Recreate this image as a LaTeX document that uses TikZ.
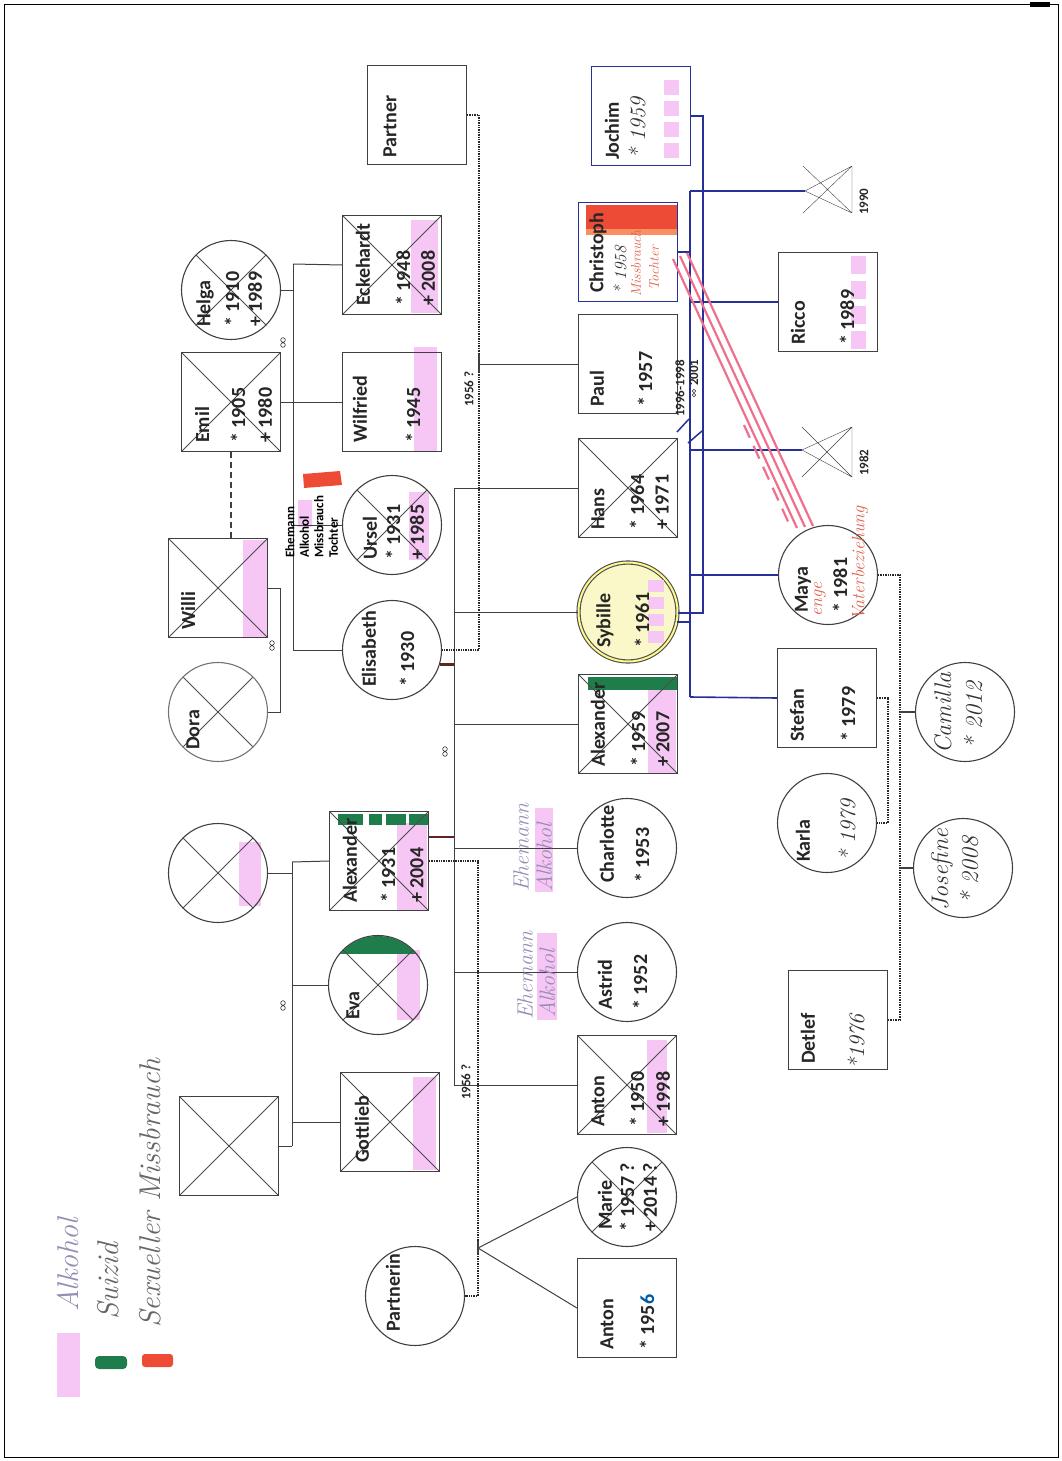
\documentclass[tikz,border=0pt]{standalone}
\usepackage{fontspec}
\usetikzlibrary{calc}
\newfontfamily\calfont{Carlito}
\newcommand{\nmfont}{\calfont\bfseries\fontsize{20}{22}\selectfont}
\newcommand{\smfont}{\calfont\bfseries\fontsize{13}{14}\selectfont}
\newcommand{\hdfont}{\itshape\fontsize{22}{24}\selectfont}
\definecolor{alk}{RGB}{246,198,244}
\definecolor{suiz}{RGB}{30,125,75}
\definecolor{miss}{RGB}{238,75,55}
\definecolor{fam}{RGB}{38,48,150}
\definecolor{abuse}{RGB}{238,112,140}
\definecolor{ink}{RGB}{150,140,180}
\definecolor{redink}{RGB}{222,95,75}
\definecolor{syb}{RGB}{250,248,200}
\definecolor{wed}{RGB}{95,35,35}

\begin{document}
\begin{tikzpicture}[x=1pt, y=-1pt,
  male/.style={draw=black!75, line width=1.1pt, rectangle, minimum size=99pt, inner sep=0pt},
  female/.style={draw=black!75, line width=1.1pt, circle, minimum size=99pt, inner sep=0pt},
  dead/.style={path picture={\draw[black!70, line width=0.8pt] (path picture bounding box.north west) -- (path picture bounding box.south east) (path picture bounding box.south west) -- (path picture bounding box.north east);}},
  nm/.style={rotate=90, anchor=west, inner sep=0pt, text=black!85, font=\nmfont},
  sm/.style={rotate=90, anchor=west, inner sep=0pt, text=black!85, font=\smfont},
  hd/.style={rotate=90, anchor=west, inner sep=0pt, text=black!80, font=\hdfont},
  rel/.style={draw=black!75, line width=1pt},
  affair/.style={draw=black!85, line width=1.4pt, densely dotted},
  famline/.style={draw=fam, line width=1.6pt},
  wedline/.style={draw=wed, line width=2.6pt},
  marr/.style={draw=black!80, line width=0.6pt}]
\useasboundingbox (0,0) rectangle (1062,1461);
\draw[line width=1pt] (4,5) rectangle (1058,1457);
\fill (1030,2) rectangle (1050,7);

% highlighter marks (alcohol / suicide / abuse)
\fill[alk] (411,220) rectangle (438,313);
\fill[alk] (414,347) rectangle (437,451);
\fill[alk] (409,492) rectangle (429,560);
\fill[alk] (243,540) rectangle (267,637);
\fill[alk] (239,842) rectangle (261,906);
\fill[alk] (397,823) rectangle (427,910);
\fill[alk] (397,950) rectangle (420,1020);
\fill[alk] (413,1077) rectangle (436,1170);
\fill[alk] (647,1040) rectangle (667,1133);
\fill[alk] (648,687) rectangle (676,773);
\fill[alk] (535,808) rectangle (553,892);
\fill[alk] (537,933) rectangle (557,1020);
\fill[alk] (298,500) rectangle (312,527);
\draw[alk, line width=15pt, dash pattern=on 15pt off 6pt] (671,80) -- (671,160);
\draw[alk, line width=15pt, dash pattern=on 18pt off 7pt] (858,256) -- (858,350);
\fill[suiz] (588,677) rectangle (677,690);
\draw[suiz, line width=11pt, dash pattern=on 25pt off 6pt on 13pt off 4pt on 20pt off 3pt on 19pt off 0pt] (338,819) -- (428,819);
\begin{scope}
  \clip (378,985) circle (49pt);
  \fill[suiz] (320,930) rectangle (440,954);
\end{scope}
\fill[miss] (303,474) -- (340,471) -- (342,485) -- (304,488) -- cycle;
\fill[miss] (586,205) rectangle (677,229);
\fill[miss!60!orange!70] (586,229) rectangle (677,235);

% persons, first generation
\node[female, dead] (helga) at (231,290) {};
\node[male, dead] (emil) at (231,402) {};
\node[female, dead, draw=black!55] (dora) at (218,712) {};
\node[male, dead] (willi) at (218,588) {};
\node[female, dead] (mother) at (218,873) {};
\node[male, dead] (father) at (229,1146) {};

% second generation
\node[male] (partner) at (417,115) {};
\node[male, dead] (eckehardt) at (392,265) {};
\node[male] (wilfried) at (392,402) {};
\node[female, dead] (ursel) at (392,525) {};
\node[female] (elisabeth) at (392,650) {};
\node[male, dead] (alexsr) at (379,861) {};
\node[female, dead] (eva) at (378,985) {};
\node[male, dead] (gottlieb) at (390,1122) {};
\node[female] (partnerin) at (415,1296) {};

% third generation
\node[male, draw=fam, line width=1.6pt] (jochim) at (641,116) {};
\node[male, draw=fam, line width=1.6pt] (christoph) at (628,252) {};
\node[male] (paul) at (628,364) {};
\node[male, dead] (hans) at (628,488) {};
\node[female, fill=syb, draw=black!70, double=yellow!45, double distance=2pt] (sybille) at (628,612) {};
\node[male, dead] (alexjr) at (628,724) {};
\node[female] (charlotte) at (627,848) {};
\node[female] (astrid) at (627,972) {};
\node[male, dead] (anton) at (627,1085) {};
\node[female, dead] (marie) at (627,1197) {};
\node[male] (antonb) at (627,1308) {};
\draw[alk, line width=16pt, dash pattern=on 12pt off 5pt] (656,580) -- (656,645);

% fourth and fifth generation
\node[male] (ricco) at (828,302) {};
\node[female] (maya) at (828,575) {};
\node[male] (stefan) at (827,698) {};
\node[female] (karla) at (827,823) {};
\node[male] (detlef) at (838,1020) {};
\node[female] (camilla) at (965,712) {};
\node[female] (josefine) at (963,868) {};
\coordinate (loss90) at (805,191);
\coordinate (loss82) at (802,450);
\draw[black!75] (loss90) -- (852,166) -- (852,213) -- cycle (803,166) -- (852,213) (803,213) -- (852,166);
\draw[black!75] (loss82) -- (852,427) -- (852,477) -- cycle (802,427) -- (852,477) (802,477) -- (852,427);
\node[sm] (y90) at (864,215) {1990};
\node[sm] (y82) at (864,476) {1982};

% Emil + Helga
\coordinate (ehtop) at (293,264);
\coordinate (ehbot) at (293,650);
\draw[rel] (ehtop) -- (ehbot);
\draw[rel] (helga.east) -- (helga.east -| ehtop);
\draw[rel] (emil.east) -- (wilfried.west);
\draw[rel] (ehtop) -- (eckehardt.west);
\draw[rel] (ursel.west -| ehtop) -- (ursel.west);
\draw[rel] (ehbot) -- (elisabeth.west);
\draw[marr] (283,340) circle (2.3pt) (283,345) circle (2.3pt);
\draw[rel, line width=1.6pt, dash pattern=on 6pt off 4pt] (emil.south) -- (emil.south |- willi.north);

% Willi + Dora
\draw[rel] (willi.east) -- ++(12,0) |- (dora.east);
\draw[marr] (272,643) circle (2.3pt) (272,648) circle (2.3pt);

% parents of Alexander
\coordinate (gtop) at (292,862);
\coordinate (gbot) at (292,1146);
\draw[rel] (gtop) -- (gbot);
\draw[rel] (mother.east) -- (mother.east -| gtop);
\draw[rel] (gtop) -- (alexsr.west);
\draw[rel] (eva.west -| gtop) -- (eva.west);
\draw[rel] (gottlieb.west -| gtop) -- (gottlieb.west);
\draw[rel] (father.east) -- (gbot);
\draw[marr] (283,1003) circle (2.3pt) (283,1008) circle (2.3pt);

% Elisabeth + Alexander
\coordinate (stop) at (454,488);
\coordinate (sbot) at (454,1085);
\draw[rel] (stop) -- (sbot);
\draw[rel] (stop) -- (hans.west);
\draw[rel] (sybille.west -| stop) -- (sybille.west);
\draw[rel] (alexjr.west -| stop) -- (alexjr.west);
\draw[rel] (charlotte.west -| stop) -- (charlotte.west);
\draw[rel] (astrid.west -| stop) -- (astrid.west);
\draw[rel] (sbot) -- (anton.west);
\draw[wedline] (elisabeth.-17) -- (elisabeth.-17 -| stop);
\draw[wedline] ($(alexsr.east)+(0,-24)$) -- ($(alexsr.east)+(25,-24)$);
\draw[marr] (445,749) circle (2.3pt) (445,754) circle (2.3pt);

% Partner + Elisabeth
\coordinate (ptop) at (479,115);
\coordinate (pbot) at (479,650);
\coordinate (pkid) at (479,364);
\draw[affair] (partner.east) -- (ptop) -- (pbot) -- (elisabeth.east);
\draw[rel] (pkid) -- (paul.west);
\draw[rel, line width=1.8pt] (479,354) -- (479,372);
\node[sm] (y56a) at (469,407) {1956 ?};

% Alexander + Partnerin
\coordinate (atop) at (478,861);
\coordinate (abot) at (478,1296);
\coordinate (akid) at (478,1248);
\draw[affair] (alexsr.east) -- (atop) -- (abot) -- (partnerin.east);
\draw[rel] (akid) -- (marie.west);
\draw[rel] (akid) -- (antonb.west);
\draw[rel, line width=1.8pt] (478,1241) -- (478,1254);
\node[sm] (y56b) at (466,1100) {1956 ?};

% Sybille's partners and children
\coordinate (jtop) at (703,116);
\coordinate (jbot) at (703,613);
\coordinate (ctop) at (690,191);
\coordinate (cbot) at (690,697);
\draw[famline] (jochim.east) -- (jtop) -- (jbot) -- (sybille.east |- jbot);
\draw[famline] (ctop) -- (cbot);
\draw[famline, line width=2.6pt] (christoph.east) -- (christoph.east -| ctop);
\draw[famline, line width=2.4pt] ($(sybille.east)+(-1,10)$) -- ($(sybille.east)+(12,10)$);
\draw[famline] (ctop) -- (loss90);
\draw[famline] (ricco.west -| ctop) -- (ricco.west);
\draw[famline] (loss82 -| ctop) -- (loss82);
\draw[famline] (maya.west -| ctop) -- (maya.west);
\draw[famline] (cbot) -- (stefan.west);
\draw[fam, line width=1.5pt] (677,432) -- (689,419) (688,443) -- (702,431);
\node[sm] (y96) at (680,417) {1996-1998};
\node[sm] (y01) at (694,386) {2001};
\draw[marr] (694,391) circle (1.8pt) (694,395) circle (1.8pt);

% abuse Christoph - Maya
\draw[abuse, line width=2.2pt] (673,259) -- (797,528);
\draw[abuse, line width=2.2pt] (680,256) -- (805,527);
\draw[abuse, line width=2.2pt] (687,253) -- (813,526);
\draw[abuse, line width=2.2pt, dash pattern=on 14pt off 9pt] (744,425) -- (791,528);

% Maya + Detlef, Stefan + Karla
\draw[affair] (maya.east) -- (900,575) -- (900,1020) -- (detlef.east);
\draw[affair] (stefan.east) -- (888,698) -- (888,823) -- (karla.east);
\draw[rel, line width=1.3pt] (900,712) -- (camilla.west);
\draw[rel, line width=1.3pt] (900,868) -- (josefine.west);

% names and dates
\node[nm] (helga-n) at (205,327) {Helga};
\node[nm] (helga-b) at (232,327) {* 1910};
\node[nm] (helga-d) at (255,327) {+ 1989};
\node[nm] (emil-n) at (202,443) {Emil};
\node[nm] (emil-b) at (238,443) {* 1905};
\node[nm] (emil-d) at (265,443) {+ 1980};
\node[nm] (dora-n) at (193,750) {Dora};
\node[nm] (willi-n) at (188,630) {Willi};
\node[nm] (partner-n) at (390,158) {Partner};
\node[nm] (eckehardt-n) at (363,306) {Eckehardt};
\node[nm] (eckehardt-b) at (403,306) {* 1948};
\node[nm] (eckehardt-d) at (428,306) {+ 2008};
\node[nm] (wilfried-n) at (360,443) {Wilfried};
\node[nm] (wilfried-b) at (413,443) {* 1945};
\node[nm] (ursel-n) at (370,560) {Ursel};
\node[nm] (ursel-b) at (393,560) {* 1931};
\node[nm] (ursel-d) at (417,560) {+ 1985};
\node[nm] (elisabeth-n) at (369,687) {Elisabeth};
\node[nm] (elisabeth-b) at (407,687) {* 1930};
\node[rotate=90, anchor=north west, align=left, inner sep=0pt, font=\calfont\bfseries\fontsize{13}{14.5}\selectfont] (ursel-note) at (285,558) {Ehemann\\Alkohol\\Missbrauch\\Tochter};
\node[nm] (alexsr-n) at (350,903) {Alexander};
\node[nm] (alexsr-b) at (388,903) {* 1931};
\node[nm] (alexsr-d) at (417,903) {+ 2004};
\node[nm] (eva-n) at (353,1020) {Eva};
\node[nm] (gottlieb-n) at (362,1163) {Gottlieb};
\node[nm] (partnerin-n) at (393,1332) {Partnerin};
\node[nm] (jochim-n) at (612,160) {Jochim};
\node[hd] (jochim-b) at (637,160) {* 1959};
\node[nm] (christoph-n) at (598,293) {Christoph};
\node[hd, font=\itshape\fontsize{17}{18}\selectfont] (christoph-b) at (620,295) {* 1958};
\node[hd, text=redink, font=\itshape\fontsize{14}{15}\selectfont] (christoph-m) at (636,297) {Missbrauch};
\node[hd, text=redink, font=\itshape\fontsize{14}{15}\selectfont] (christoph-t) at (654,291) {Tochter};
\node[nm] (paul-n) at (597,407) {Paul};
\node[nm] (paul-b) at (645,407) {* 1957};
\node[nm] (hans-n) at (598,530) {Hans};
\node[nm] (hans-b) at (637,530) {* 1964};
\node[nm] (hans-d) at (662,530) {+ 1971};
\node[nm] (sybille-n) at (605,648) {Sybille};
\node[nm] (sybille-b) at (642,648) {* 1961};
\node[nm] (alexjr-n) at (598,767) {Alexander};
\node[nm] (alexjr-b) at (638,767) {* 1959};
\node[nm] (alexjr-d) at (663,767) {+ 2007};
\node[nm] (charlotte-n) at (607,883) {Charlotte};
\node[nm] (charlotte-b) at (642,883) {* 1953};
\node[nm] (astrid-n) at (605,1010) {Astrid};
\node[nm] (astrid-b) at (640,1010) {* 1952};
\node[nm] (anton-n) at (598,1127) {Anton};
\node[nm] (anton-b) at (637,1127) {* 1950};
\node[nm] (anton-d) at (663,1127) {+ 1998};
\node[nm] (marie-n) at (605,1230) {Marie};
\node[nm] (marie-b) at (627,1232) {* 1957 ?};
\node[nm] (marie-d) at (650,1232) {+ 2014 ?};
\node[nm] (antonb-n) at (607,1350) {Anton};
\node[nm] (antonb-b) at (647,1350) {* 195\textcolor{teal!70!blue}{6}};
\node[hd, ink] (charlotte-note1) at (521,892) {Ehemann};
\node[hd, ink] (charlotte-note2) at (544,892) {Alkohol};
\node[hd, ink] (astrid-note1) at (525,1020) {Ehemann};
\node[hd, ink] (astrid-note2) at (547,1018) {Alkohol};
\node[nm] (ricco-n) at (798,345) {Ricco};
\node[nm] (ricco-b) at (847,345) {* 1989};
\node[nm] (maya-n) at (803,613) {Maya};
\node[hd, text=redink, font=\itshape\fontsize{18}{19}\selectfont] (maya-e) at (820,617) {enge};
\node[nm] (maya-b) at (840,613) {* 1981};
\node[hd, text=redink, font=\itshape\fontsize{18}{19}\selectfont] (maya-v) at (860,621) {Vaterbeziehung};
\node[nm] (stefan-n) at (797,742) {Stefan};
\node[nm] (stefan-b) at (848,742) {* 1979};
\node[nm] (karla-n) at (803,862) {Karla};
\node[hd] (karla-b) at (847,862) {* 1979};
\node[nm] (detlef-n) at (808,1064) {Detlef};
\node[hd] (detlef-b) at (856,1070) {*1976};
\node[hd, font=\itshape\fontsize{24}{26}\selectfont] (camilla-n) at (943,754) {Camilla};
\node[hd, font=\itshape\fontsize{24}{26}\selectfont] (camilla-b) at (973,750) {* 2012};
\node[hd, font=\itshape\fontsize{24}{26}\selectfont] (josefine-n) at (942,911) {Josefine};
\node[hd, font=\itshape\fontsize{24}{26}\selectfont] (josefine-b) at (969,905) {* 2008};

% legend
\fill[alk] (57,1333) rectangle (80,1397);
\fill[suiz, rounded corners=4pt] (95,1356) rectangle (127,1369);
\fill[miss, rounded corners=3pt] (142,1354) rectangle (173,1367);
\node[hd, ink, font=\itshape\fontsize{30}{32}\selectfont] (leg-alk) at (68,1312) {Alkohol};
\node[hd, text=black!60, font=\itshape\fontsize{30}{32}\selectfont] (leg-sui) at (108,1320) {Suizid};
\node[hd, text=black!60, font=\itshape\fontsize{30}{32}\selectfont] (leg-sex) at (150,1328) {Sexueller Missbrauch};
\end{tikzpicture}
\end{document}
